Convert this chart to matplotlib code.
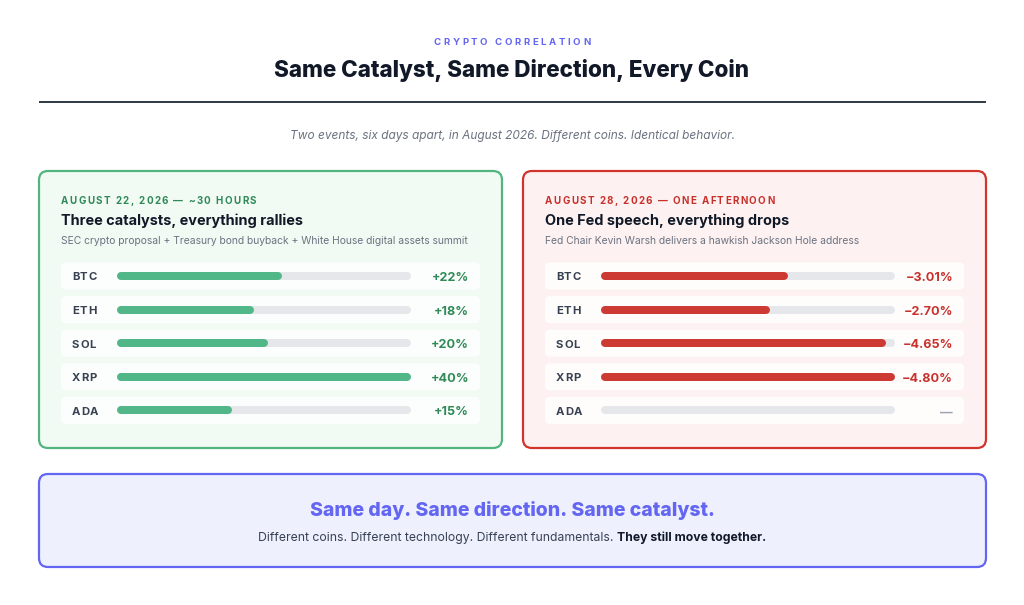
import matplotlib
matplotlib.use("Agg")
import matplotlib.pyplot as plt
from matplotlib.patches import FancyBboxPatch
from matplotlib.font_manager import FontProperties

plt.rcParams['font.family'] = ['Inter', 'DejaVu Sans']

# ---------------- data ----------------
coins = ["BTC", "ETH", "SOL", "XRP", "ADA"]
rally_values = [22, 18, 20, 40, 15]              # % change, Aug 22
rally_labels = ["+22%", "+18%", "+20%", "+40%", "+15%"]
drop_values = [3.01, 2.70, 4.65, 4.80, None]     # % drop, Aug 28
drop_labels = ["\u22123.01%", "\u22122.70%", "\u22124.65%", "\u22124.80%", "\u2014"]

kicker = "CRYPTO CORRELATION"
title = "Same Catalyst, Same Direction, Every Coin"
subtitle = "Two events, six days apart, in August 2026. Different coins. Identical behavior."
left_label = "AUGUST 22, 2026 \u2014 ~30 HOURS"
left_head = "Three catalysts, everything rallies"
left_desc = "SEC crypto proposal + Treasury bond buyback + White House digital assets summit"
right_label = "AUGUST 28, 2026 \u2014 ONE AFTERNOON"
right_head = "One Fed speech, everything drops"
right_desc = "Fed Chair Kevin Warsh delivers a hawkish Jackson Hole address"
bottom_head = "Same day. Same direction. Same catalyst."
bottom_sub1 = "Different coins. Different technology. Different fundamentals. "
bottom_sub2 = "They still move together."

W, H = 1024, 605
fig = plt.figure(figsize=(W / 100, H / 100), dpi=100)
fig.patch.set_facecolor("white")
ax = fig.add_axes([0, 0, 1, 1])
ax.set_xlim(0, W)
ax.set_ylim(0, H)
ax.axis("off")
renderer = fig.canvas.get_renderer()


def Y(p):
    return H - p


def pt(px):
    return px * 0.72


def adv(c, prop):
    w1, _, _ = renderer.get_text_width_height_descent("a" + c + "a", prop, ismath=False)
    w0, _, _ = renderer.get_text_width_height_descent("aa", prop, ismath=False)
    return w1 - w0


def spaced(x, y, s, spacing, size, weight="bold", color="k", ha="left"):
    prop = FontProperties(family=['Inter', 'DejaVu Sans'], size=size, weight=weight)
    advs = [adv(c, prop) for c in s]
    total = sum(advs) + spacing * (len(s) - 1)
    if ha == "center":
        x0 = x - total / 2
    else:
        x0 = x
    for c, a in zip(s, advs):
        ax.text(x0, Y(y), c, fontproperties=prop, color=color, ha="left", va="baseline")
        x0 += a + spacing


def rbox(x0, y0, x1, y1, r, fc, ec, lw, alpha=1.0):
    p = FancyBboxPatch((x0, Y(y1)), x1 - x0, y1 - y0,
                       boxstyle=f"round,pad=0,rounding_size={r}",
                       fc=fc, ec=ec, lw=lw, alpha=alpha)
    ax.add_patch(p)


# ---------------- header ----------------
spaced(512, 45, kicker, 2.6, pt(9.6), color="#6366f1", ha="center")
ax.text(512, Y(77), title, fontsize=pt(22.5), fontweight="heavy", color="#111827",
        ha="center", va="baseline")
ax.plot([39, 986], [Y(102), Y(102)], color="#1f2937", lw=1.3, solid_capstyle="butt")
ax.text(512, Y(138.5), subtitle, fontsize=pt(11.9), style="italic", color="#6b7280",
        ha="center", va="baseline")

# ---------------- cards ----------------
row_y0 = 276
row_dy = 33.6
track_px = 8


def card(x0, fill, border, accent, bar_color, label, head, desc, values, labels, vmax):
    rbox(x0, 171, x0 + 463, 448, 9, fill, border, 1.6)
    spaced(x0 + 22, 203.5, label, 1.4, pt(9.8), color=accent)
    ax.text(x0 + 22, Y(225), head, fontsize=pt(14.5), fontweight="bold", color="#111827",
            ha="left", va="baseline")
    ax.text(x0 + 22, Y(244), desc, fontsize=pt(10.3), color="#6b7280", ha="left", va="baseline")
    for i, (coin, lab) in enumerate(zip(coins, labels)):
        cy = row_y0 + i * row_dy
        rbox(x0 + 22, cy - 13.5, x0 + 441, cy + 13.5, 5, "white", "none", 0, alpha=0.85)
        spaced(x0 + 33, cy + 4.5, coin, 0.7, pt(11.3), color="#374151")
        ax.text(x0 + 430, Y(cy + 5), lab, fontsize=pt(12.6), fontweight="bold",
                color=accent if values[i] is not None else "#9ca3af",
                ha="right", va="baseline")
    # bar axes: spans the track (minus half the round cap on each side)
    top = row_y0 - row_dy / 2
    bot = row_y0 + 4 * row_dy + row_dy / 2
    bx0 = x0 + 78 + track_px / 2
    bx1 = x0 + 372 - track_px / 2
    bax = fig.add_axes([bx0 / W, Y(bot) / H, (bx1 - bx0) / W, (bot - top) / H])
    bax.set_xlim(0, vmax)
    bax.set_ylim(len(coins) - 0.5, -0.5)
    bax.axis("off")
    lw = track_px * 0.72
    for i, v in enumerate(values):
        bax.plot([0, vmax], [i, i], color="#e5e7eb", lw=lw, solid_capstyle="round",
                 clip_on=False)
        if v is not None:
            bax.plot([0, v], [i, i], color=bar_color, lw=lw, solid_capstyle="round",
                     clip_on=False)


card(39, "#f1fbf4", "#52b47f", "#2f8a57", "#52b788",
     left_label, left_head, left_desc, rally_values, rally_labels, max(rally_values))
card(523, "#fdf2f1", "#d1342d", "#c9302c", "#cc3a33",
     right_label, right_head, right_desc, drop_values, drop_labels,
     max(v for v in drop_values if v is not None))

# ---------------- bottom box ----------------
rbox(39, 474, 986, 567, 9, "#eef0fe", "#6366f1", 1.6)
ax.text(512, Y(516), bottom_head, fontsize=pt(19.5), fontweight="heavy", color="#6366f1",
        ha="center", va="baseline")
prop1 = FontProperties(family=['Inter', 'DejaVu Sans'], size=pt(12.2))
prop2 = FontProperties(family=['Inter', 'DejaVu Sans'], size=pt(12.2), weight="bold")
w1 = adv(bottom_sub1, prop1)
w2 = adv(bottom_sub2, prop2)
sx = 512 - (w1 + w2) / 2
ax.text(sx, Y(541), bottom_sub1, fontproperties=prop1, color="#374151", ha="left", va="baseline")
ax.text(sx + w1, Y(541), bottom_sub2, fontproperties=prop2, color="#111827", ha="left",
        va="baseline")

fig.savefig("out.png", dpi=100, facecolor="white")
